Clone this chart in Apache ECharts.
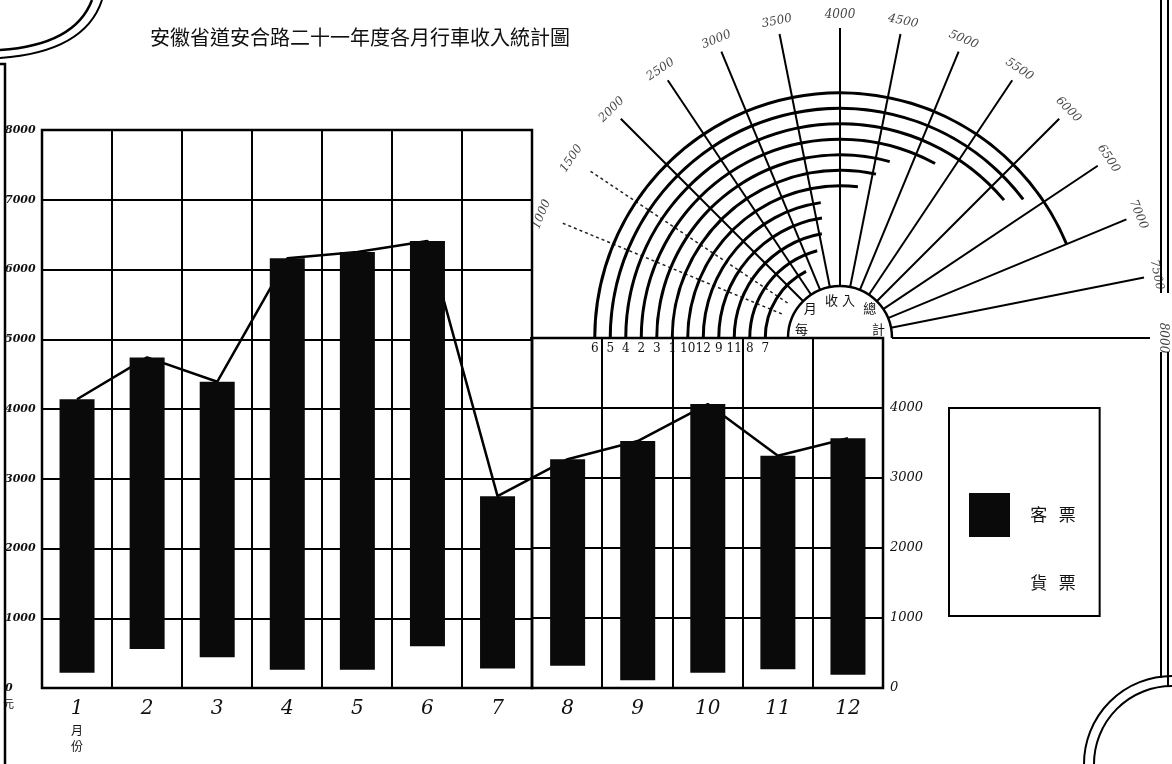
<!DOCTYPE html>
<html>
<head>
<meta charset="utf-8">
<script src="https://cdn.jsdelivr.net/npm/echarts@6/dist/echarts.min.js"></script>
<style>
    html, body {margin: 0; padding: 0; background: #fff;}
    #main {width: 1172px; height: 764px;}
</style>
</head>
<body>
<div id="main"></div>
<script>
// 月份
const months = ['1', '2', '3', '4', '5', '6', '7', '8', '9', '10', '11', '12'];
// 貨票 - white gap under each black bar
const freight = [220, 560, 440, 260, 260, 600, 280, 320, 110, 220, 270, 190];
// 客票 - the black bar
const passenger = [3920, 4180, 3950, 5900, 5990, 5810, 2470, 2960, 3430, 3850, 3060, 3390];
// monthly total, the line joining the bar tops
const totals = [4140, 4740, 4390, 6160, 6250, 6410, 2750, 3280, 3540, 4070, 3330, 3580];
const dialTotals = [4550, 5270, 4700, 6220, 6350, 7000, 2800, 3350, 3620, 4300, 3560, 3640];
// labels written at the end of the dial spokes
const dialTicks = [1000, 1500, 2000, 2500, 3000, 3500, 4000, 4500, 5000, 5500, 6000, 6500, 7000, 7500, 8000];
// text round the hub of the dial
const hubText = ['每', '月', '收', '入', '總', '計'];

const title = '安徽省道安合路二十一年度各月行車收入統計圖';
const cjk = '"Noto Sans CJK TC", "Noto Sans CJK SC", sans-serif';
const hand = '"DejaVu Serif", serif';

// rings go inner -> outer from smallest to largest total
const ringOrder = months.map((m, i) => i).sort((a, b) => dialTotals[a] - dialTotals[b]);
const ringCats = ringOrder.map(i => months[i]);
const ringData = ringOrder.map(i => dialTotals[i]);

// spokes every 500: none at 500, dotted at 1000 / 1500, solid from 2000 on
const solidSpokes = [];
const dottedSpokes = [];
for (let v = 0; v <= 8000; v += 500) {
    let dotted = v === 1000 || v === 1500;
    solidSpokes.push(v === 500 || dotted ? 'rgba(0,0,0,0)' : '#000');
    dottedSpokes.push(dotted ? '#222' : 'rgba(0,0,0,0)');
}

const chart = echarts.init(document.getElementById('main'));
const dialCenter = [840, 338];
const dialAngle = {type: 'value', min: 0, max: 8000, startAngle: 180, endAngle: 0, clockwise: true};

let option = {
    backgroundColor: '#fff',
    animation: false,
    title: {
        text: title,
        left: 145,
        top: 22,
        textStyle: {fontSize: 20, fontWeight: 'normal', fontFamily: cjk, color: '#111'}
    },
    legend: {
        data: ['客票', '貨票'],
        orient: 'vertical',
        left: 949,
        top: 408,
        padding: [85, 24, 11, 20],
        itemWidth: 41,
        itemHeight: 44,
        itemGap: 24,
        icon: 'rect',
        borderColor: '#000',
        borderWidth: 2,
        backgroundColor: '#fff',
        selectedMode: false,
        formatter: function (name) {
            return '    ' + name.split('').join('   ');
        },
        textStyle: {fontSize: 17, fontFamily: cjk, color: '#111'}
    },
    grid: [
        {left: 42, top: 130, width: 841, height: 558},
        {left: 42, top: 130, width: 490, height: 558, show: true, borderColor: '#000', borderWidth: 2.5},
        {left: 532, top: 338, width: 351, height: 350, show: true, borderColor: '#000', borderWidth: 2.5}
    ],
    xAxis: [
        {
            gridIndex: 0,
            type: 'category',
            data: months,
            axisLine: {show: false},
            axisTick: {show: false},
            splitLine: {show: false},
            axisLabel: {
                margin: 8,
                interval: 0,
                formatter: function (v, i) {
                    return i === 0 ? '{n|' + v + '}\n{u|月}\n{u|份}' : '{n|' + v + '}';
                },
                rich: {
                    n: {fontSize: 20, fontStyle: 'italic', fontFamily: hand, color: '#111', lineHeight: 26},
                    u: {fontSize: 12, fontFamily: cjk, color: '#111', lineHeight: 16}
                }
            }
        },
        {
            gridIndex: 1,
            type: 'category',
            data: months.slice(0, 7),
            axisLine: {show: false},
            axisTick: {show: false},
            axisLabel: {show: false},
            splitLine: {show: true, interval: 0, lineStyle: {color: '#000', width: 2}}
        },
        {
            gridIndex: 2,
            type: 'category',
            data: months.slice(7),
            axisLine: {show: false},
            axisTick: {show: false},
            axisLabel: {show: false},
            splitLine: {show: true, interval: 0, lineStyle: {color: '#000', width: 2}}
        }
    ],
    yAxis: [
        {gridIndex: 0, type: 'value', min: 0, max: 8000, interval: 1000, show: false},
        {
            gridIndex: 1,
            type: 'value',
            min: 0,
            max: 8000,
            interval: 1000,
            axisLine: {show: false},
            axisTick: {show: false},
            splitLine: {show: true, lineStyle: {color: '#000', width: 2}},
            axisLabel: {
                align: 'left',
                margin: 37,
                fontSize: 11,
                fontWeight: 'bold',
                fontStyle: 'italic',
                fontFamily: hand,
                color: '#111',
                formatter: function (v) {
                    return String(v);
                }
            }
        },
        {
            gridIndex: 2,
            type: 'value',
            position: 'right',
            min: 0,
            max: 5000,
            interval: 1000,
            axisLine: {show: false},
            axisTick: {show: false},
            splitLine: {show: true, lineStyle: {color: '#000', width: 2}},
            axisLabel: {
                margin: 7,
                fontSize: 13,
                fontStyle: 'italic',
                fontFamily: hand,
                color: '#111',
                formatter: function (v) {
                    return v >= 5000 ? '' : String(v);
                }
            }
        }
    ],
    polar: [
        {center: dialCenter, radius: [52, 310]},
        {center: dialCenter, radius: [67, 253]},
        {center: dialCenter, radius: [0, 52]},
        {center: dialCenter, radius: [0, 323]},
        {center: dialCenter, radius: [60, 300]}
    ],
    angleAxis: [
        Object.assign({}, dialAngle, {
            polarIndex: 0,
            interval: 500,
            axisLine: {show: false},
            axisTick: {show: false},
            axisLabel: {show: false},
            splitLine: {show: true, lineStyle: {color: solidSpokes, width: 2}}
        }),
        Object.assign({}, dialAngle, {polarIndex: 1, show: false}),
        {
            polarIndex: 2,
            type: 'category',
            data: hubText,
            startAngle: 180,
            endAngle: 0,
            clockwise: true,
            axisLine: {show: true, lineStyle: {color: '#000', width: 2.5}},
            axisTick: {show: false},
            splitLine: {show: false},
            axisLabel: {margin: -19, fontSize: 13, fontFamily: cjk, color: '#111'}
        },
        Object.assign({}, dialAngle, {polarIndex: 3, show: false}),
        Object.assign({}, dialAngle, {
            polarIndex: 4,
            interval: 500,
            axisLine: {show: false},
            axisTick: {show: false},
            axisLabel: {show: false},
            splitLine: {show: true, lineStyle: {color: dottedSpokes, width: 1.5, type: [3, 3]}}
        })
    ],
    radiusAxis: [
        {polarIndex: 0, type: 'value', show: false},
        {
            polarIndex: 1,
            type: 'category',
            data: ringCats,
            axisLine: {show: false},
            axisTick: {show: false},
            axisLabel: {interval: 0, margin: 5, fontSize: 12, fontFamily: hand, color: '#111'}
        },
        {polarIndex: 2, type: 'value', show: false},
        {polarIndex: 3, type: 'value', min: 0, max: 1, show: false},
        {polarIndex: 4, type: 'value', show: false}
    ],
    graphic: [
        {type: 'text', left: 978, top: 437, style: {text: '圖', fontSize: 18, fontFamily: cjk, fill: '#111'}},
        {type: 'text', left: 1050, top: 437, style: {text: '例', fontSize: 18, fontFamily: cjk, fill: '#111'}},
        {type: 'text', left: 3, top: 698, style: {text: '元', fontSize: 11, fontFamily: cjk, fill: '#111'}},
        // frame, top left corner
        {type: 'bezierCurve', shape: {x1: 0, y1: 50, x2: 92, y2: 0, cpx1: 75, cpy1: 45}, style: {stroke: '#000', lineWidth: 2.5, fill: null}},
        {type: 'bezierCurve', shape: {x1: 0, y1: 58, x2: 102, y2: 0, cpx1: 85, cpy1: 52}, style: {stroke: '#000', lineWidth: 2, fill: null}},
        {type: 'polyline', shape: {points: [[0, 64], [5, 64], [5, 764]]}, style: {stroke: '#000', lineWidth: 2.5, fill: null}},
        // frame, right side and bottom right corner
        {type: 'line', shape: {x1: 1161, y1: 0, x2: 1161, y2: 293}, style: {stroke: '#000', lineWidth: 2}},
        {type: 'line', shape: {x1: 1168, y1: 0, x2: 1168, y2: 293}, style: {stroke: '#000', lineWidth: 2}},
        {type: 'line', shape: {x1: 1161, y1: 352, x2: 1161, y2: 678}, style: {stroke: '#000', lineWidth: 2}},
        {type: 'line', shape: {x1: 1168, y1: 352, x2: 1168, y2: 687}, style: {stroke: '#000', lineWidth: 2}},
        {type: 'arc', shape: {cx: 1172, cy: 764, r: 78, startAngle: Math.PI, endAngle: Math.PI * 1.5}, style: {stroke: '#000', lineWidth: 2, fill: null}},
        {type: 'arc', shape: {cx: 1172, cy: 764, r: 88, startAngle: Math.PI, endAngle: Math.PI * 1.5}, style: {stroke: '#000', lineWidth: 2, fill: null}}
    ],
    series: [
        {
            name: '貨票',
            type: 'bar',
            xAxisIndex: 0,
            yAxisIndex: 0,
            stack: 'month',
            barWidth: 35,
            z: 3,
            itemStyle: {color: 'rgba(0,0,0,0)'},
            data: freight
        },
        {
            name: '客票',
            type: 'bar',
            xAxisIndex: 0,
            yAxisIndex: 0,
            stack: 'month',
            barWidth: 35,
            z: 3,
            itemStyle: {color: '#0a0a0a'},
            data: passenger
        },
        {
            name: '總計',
            type: 'line',
            xAxisIndex: 0,
            yAxisIndex: 0,
            symbol: 'none',
            z: 2,
            lineStyle: {color: '#000', width: 2.5},
            data: totals
        },
        {
            name: '每月收入總計',
            type: 'bar',
            coordinateSystem: 'polar',
            polarIndex: 1,
            barWidth: 3,
            itemStyle: {color: '#000'},
            data: ringData
        },
        {
            // spoke end labels, turned along the dial
            name: 'dialTicks',
            type: 'scatter',
            coordinateSystem: 'polar',
            polarIndex: 3,
            symbolSize: 0,
            silent: true,
            label: {
                show: true,
                position: 'inside',
                fontSize: 12,
                fontStyle: 'italic',
                fontFamily: hand,
                color: '#111',
                formatter: function (p) {
                    return String(p.value[1]);
                }
            },
            data: dialTicks.map(v => ({value: [1, v], label: {rotate: 90 - v * 180 / 8000}}))
        }
    ]
};

chart.setOption(option);
</script>
</body>
</html>
